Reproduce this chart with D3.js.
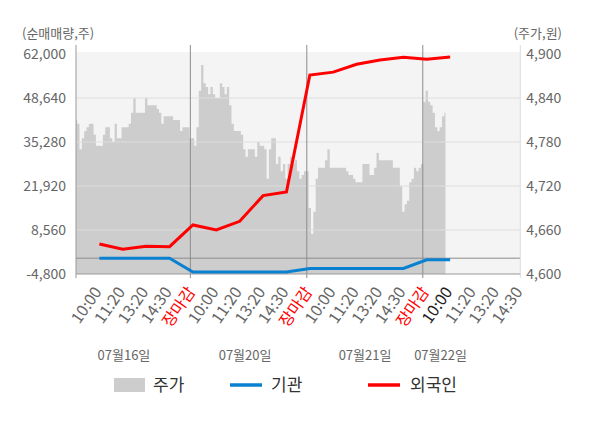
<!DOCTYPE html>
<html>
<head>
<meta charset="utf-8">
<script src="https://cdn.jsdelivr.net/npm/d3@7"></script>
<style>
  body { margin: 0; background: #fff; }
  svg { display: block; font-family: 'Noto Sans CJK KR', 'Noto Sans', sans-serif; }
</style>
</head>
<body>
<div class="chart"></div>
<script>
// days on the x axis
const days = ['07월16일', '07월20일', '07월21일', '07월22일'];

// intraday labels, one every 10 samples
const tickLabels = [
  '10:00', '11:20', '13:20', '14:30', '장마감',
  '10:00', '11:20', '13:20', '14:30', '장마감',
  '10:00', '11:20', '13:20', '14:30', '장마감',
  '10:00', '11:20', '13:20', '14:30'
];

// 주가 (원), one value per sample
const price16 = [
  4810, 4805, 4770, 4785, 4795, 4800, 4805, 4805, 4790, 4775,
  4775, 4775, 4790, 4800, 4800, 4785, 4780, 4805, 4785, 4785,
  4800, 4800, 4800, 4805, 4820, 4840, 4820, 4820, 4820, 4820,
  4840, 4830, 4830, 4830, 4830, 4825, 4820, 4805, 4815, 4815,
  4815, 4815, 4810, 4810, 4810, 4795, 4800, 4800, 4800, 4785
];
const price20 = [
  4785, 4775, 4800, 4850, 4885, 4860, 4855, 4845, 4855, 4845,
  4840, 4840, 4860, 4855, 4845, 4855, 4830, 4805, 4795, 4795,
  4795, 4790, 4770, 4760, 4770, 4770, 4770, 4760, 4780, 4775,
  4775, 4770, 4730, 4770, 4785, 4785, 4750, 4760, 4740, 4750,
  4730, 4750, 4760, 4750, 4755, 4740, 4730, 4735, 4740, 4740
];
const price21 = [
  4690, 4655, 4685, 4730, 4745, 4745, 4745, 4755, 4770, 4745,
  4745, 4745, 4745, 4745, 4745, 4745, 4740, 4735, 4735, 4730,
  4725, 4725, 4725, 4750, 4750, 4750, 4735, 4735, 4745, 4765,
  4755, 4755, 4755, 4755, 4755, 4755, 4745, 4745, 4745, 4720,
  4685, 4695, 4700, 4725, 4730, 4745, 4740, 4745, 4750
];
const price22 = [4835, 4850, 4835, 4830, 4820, 4800, 4795, 4800, 4815, 4820];

// 순매매량 (주), one value per tick label
const foreign = [
  4300, 2700, 3600, 3500, 10080, 8560, 11200, 19000,
  20100, 55600, 56500, 58900, 60200, 61000, 60400, 61100
];
const institution = [
  0, 0, 0, 0, -4200, -4200, -4200, -4200,
  -4200, -3100, -3100, -3100, -3100, -3100, -500, -500
];

// sample positions of the day breaks and day captions
const dayBreaks = [48.9, 98.7, 148.3];
const dayLabelAt = [20.5, 72.3, 123.6, 155.9];

const leftTicks = [-4800, 8560, 21920, 35280, 48640, 62000];
const rightTicks = [4600, 4660, 4720, 4780, 4840, 4900];

const width = 600;
const height = 428;
const plot = { left: 76, right: 520.3, top: 54, bottom: 274 };

const price = price16.concat(price20, price21, price22);
const tickAt = tickLabels.map((d, i) => (i + 1) * 10);

const svg = d3.select('.chart')
  .append('svg')
  .attr('width', width)
  .attr('height', height);

const x = d3.scaleLinear()
  .domain([0, 190])
  .range([plot.left, plot.right]);

const yLeft = d3.scaleLinear()
  .domain([-4800, 62000])
  .range([plot.bottom, plot.top]);

const yRight = d3.scaleLinear()
  .domain([4600, 4900])
  .range([plot.bottom, plot.top]);

// plot background
svg.append('rect')
  .attr('x', plot.left)
  .attr('y', plot.top - 2)
  .attr('width', plot.right - plot.left)
  .attr('height', plot.bottom - plot.top + 2)
  .attr('fill', '#f4f4f4');

// price area
const area = d3.area()
  .x((d, i) => x(i))
  .y0(plot.bottom)
  .y1(d => yRight(d))
  .curve(d3.curveStep);

svg.append('path')
  .datum(price)
  .attr('d', area)
  .attr('fill', '#cdcdcd');

// grid lines
svg.append('g')
  .selectAll('line')
  .data(leftTicks.slice(1, -1))
  .join('line')
  .attr('x1', plot.left)
  .attr('x2', plot.right)
  .attr('y1', d => yLeft(d))
  .attr('y2', d => yLeft(d))
  .attr('stroke', '#dddddd')
  .attr('stroke-width', 1.2);

// zero line
svg.append('line')
  .attr('x1', plot.left)
  .attr('x2', plot.right)
  .attr('y1', yLeft(0))
  .attr('y2', yLeft(0))
  .attr('stroke', '#8c8c8c')
  .attr('stroke-width', 1);

// day separators
svg.append('g')
  .selectAll('line')
  .data(dayBreaks)
  .join('line')
  .attr('x1', d => x(d))
  .attr('x2', d => x(d))
  .attr('y1', plot.top - 9)
  .attr('y2', plot.bottom + 4)
  .attr('stroke', '#8c8c8c')
  .attr('stroke-width', 1);

// frame
svg.append('line')
  .attr('x1', plot.left).attr('x2', plot.left)
  .attr('y1', plot.top - 9).attr('y2', plot.bottom + 4)
  .attr('stroke', '#999');
svg.append('line')
  .attr('x1', plot.right).attr('x2', plot.right)
  .attr('y1', plot.top - 9).attr('y2', plot.bottom + 4)
  .attr('stroke', '#dddddd');
svg.append('line')
  .attr('x1', plot.left).attr('x2', plot.right)
  .attr('y1', plot.bottom).attr('y2', plot.bottom)
  .attr('stroke', '#999');

// net buying lines
const line = d3.line()
  .x((d, i) => x(tickAt[i]))
  .y(d => yLeft(d));

svg.append('path')
  .datum(institution)
  .attr('d', line)
  .attr('fill', 'none')
  .attr('stroke', '#0a80d0')
  .attr('stroke-width', 3);

svg.append('path')
  .datum(foreign)
  .attr('d', line)
  .attr('fill', 'none')
  .attr('stroke', '#ff0000')
  .attr('stroke-width', 3);

// left axis labels
svg.append('g')
  .selectAll('text')
  .data(leftTicks)
  .join('text')
  .attr('x', plot.left - 10)
  .attr('y', d => yLeft(d))
  .attr('dy', '0.35em')
  .attr('text-anchor', 'end')
  .attr('font-size', 14)
  .attr('fill', '#666')
  .text(d => d3.format(',')(d).replace('−', '-'));

// right axis labels
svg.append('g')
  .selectAll('text')
  .data(rightTicks)
  .join('text')
  .attr('x', plot.right + 6)
  .attr('y', d => yRight(d))
  .attr('dy', '0.35em')
  .attr('font-size', 14)
  .attr('fill', '#666')
  .text(d => d3.format(',')(d));

// axis titles
svg.append('text')
  .attr('x', 22)
  .attr('y', 33)
  .attr('dy', '0.35em')
  .attr('font-size', 13)
  .attr('fill', '#666')
  .text('(순매매량,주)');

svg.append('text')
  .attr('x', 562)
  .attr('y', 33)
  .attr('dy', '0.35em')
  .attr('text-anchor', 'end')
  .attr('font-size', 13)
  .attr('fill', '#666')
  .text('(주가,원)');

// x tick labels
svg.append('g')
  .selectAll('text')
  .data(tickLabels)
  .join('text')
  .attr('transform', (d, i) => `translate(${x(tickAt[i]) + 3}, 292) rotate(-55)`)
  .attr('text-anchor', 'end')
  .attr('font-size', 16)
  .attr('fill', (d, i) => d === '장마감' ? '#ff0000' : (i === 15 ? '#222' : '#666'))
  .text(d => d);

// day captions
svg.append('g')
  .selectAll('text')
  .data(days)
  .join('text')
  .attr('x', (d, i) => x(dayLabelAt[i]))
  .attr('y', 355)
  .attr('dy', '0.35em')
  .attr('text-anchor', 'middle')
  .attr('font-size', 13)
  .attr('fill', '#666')
  .text(d => d);

// legend
const legend = svg.append('g').attr('font-size', 17).attr('fill', '#333');

legend.append('rect')
  .attr('x', 114).attr('y', 378)
  .attr('width', 31).attr('height', 14)
  .attr('fill', '#cdcdcd');
legend.append('text')
  .attr('x', 153).attr('y', 385).attr('dy', '0.35em')
  .text('주가');

legend.append('line')
  .attr('x1', 230).attr('x2', 262)
  .attr('y1', 385).attr('y2', 385)
  .attr('stroke', '#0a80d0').attr('stroke-width', 3.5);
legend.append('text')
  .attr('x', 271).attr('y', 385).attr('dy', '0.35em')
  .text('기관');

legend.append('line')
  .attr('x1', 368).attr('x2', 400)
  .attr('y1', 385).attr('y2', 385)
  .attr('stroke', '#ff0000').attr('stroke-width', 3.5);
legend.append('text')
  .attr('x', 410).attr('y', 385).attr('dy', '0.35em')
  .text('외국인');
</script>
</body>
</html>
